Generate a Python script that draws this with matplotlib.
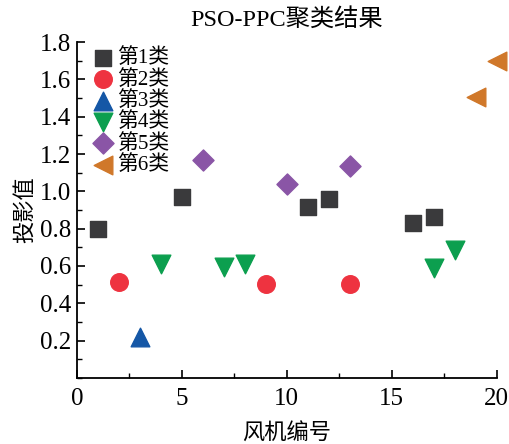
import matplotlib
matplotlib.use('Agg')
import matplotlib.pyplot as plt
from matplotlib.ticker import MultipleLocator

plt.rcParams['font.family'] = ['Liberation Serif', 'Noto Sans CJK SC']

# cluster data: turbine number, projection value
x1 = [1, 5, 11, 12, 16, 17]
y1 = [0.80, 0.97, 0.915, 0.96, 0.83, 0.86]
x2 = [2, 9, 13]
y2 = [0.515, 0.505, 0.505]
x3 = [3]
y3 = [0.22]
x4 = [4, 7, 8, 17, 18]
y4 = [0.61, 0.595, 0.61, 0.59, 0.685]
x5 = [6, 10, 13]
y5 = [1.168, 1.042, 1.136]
x6 = [19, 20]
y6 = [1.505, 1.70]
labels = ['第1类', '第2类', '第3类', '第4类', '第5类', '第6类']

fig = plt.figure(figsize=(5.09, 4.44), dpi=100)
ax = fig.add_axes([0.151, 0.149, 0.825, 0.756])

ax.scatter(x1, y1, marker='s', s=120, color='#3a3a3c', label=labels[0], clip_on=False)
ax.scatter(x2, y2, marker='o', s=160, color='#ee3340', label=labels[1], clip_on=False)
ax.scatter(x3, y3, marker='^', s=180, color='#1557a6', label=labels[2], clip_on=False)
ax.scatter(x4, y4, marker='v', s=180, color='#0c9f4f', label=labels[3], clip_on=False)
ax.scatter(x5, y5, marker='D', s=115, color='#8a55a6', label=labels[4], clip_on=False)
ax.scatter(x6, y6, marker='<', s=180, color='#d0782a', label=labels[5], clip_on=False)

ax.set_xlim(0, 20)
ax.set_ylim(0, 1.8)
ax.set_yticks([0.2, 0.4, 0.6, 0.8, 1.0, 1.2, 1.4, 1.6, 1.8])
ax.xaxis.set_major_locator(MultipleLocator(5))
ax.xaxis.set_minor_locator(MultipleLocator(2.5))
ax.yaxis.set_minor_locator(MultipleLocator(0.1))
ax.tick_params(which='major', direction='in', length=6, width=1.2, labelsize=18, pad=4)
ax.tick_params(axis='x', which='major', pad=7)
ax.tick_params(which='minor', direction='in', length=3.5, width=1)
ax.spines['top'].set_visible(False)
ax.spines['right'].set_visible(False)
ax.spines['left'].set_linewidth(1.3)
ax.spines['bottom'].set_linewidth(1.3)

ax.set_title('PSO-PPC聚类结果', fontsize=17.5, pad=12)
ax.set_xlabel('风机编号', fontsize=16, labelpad=10)
ax.set_ylabel('投影值', fontsize=16, labelpad=3)

ax.legend(loc='upper left', frameon=False, fontsize=15, handletextpad=0.15,
          labelspacing=0.07, borderaxespad=0.3, handlelength=1.1,
          bbox_to_anchor=(0.0, 1.025))

fig.savefig('out.png', dpi=100)
